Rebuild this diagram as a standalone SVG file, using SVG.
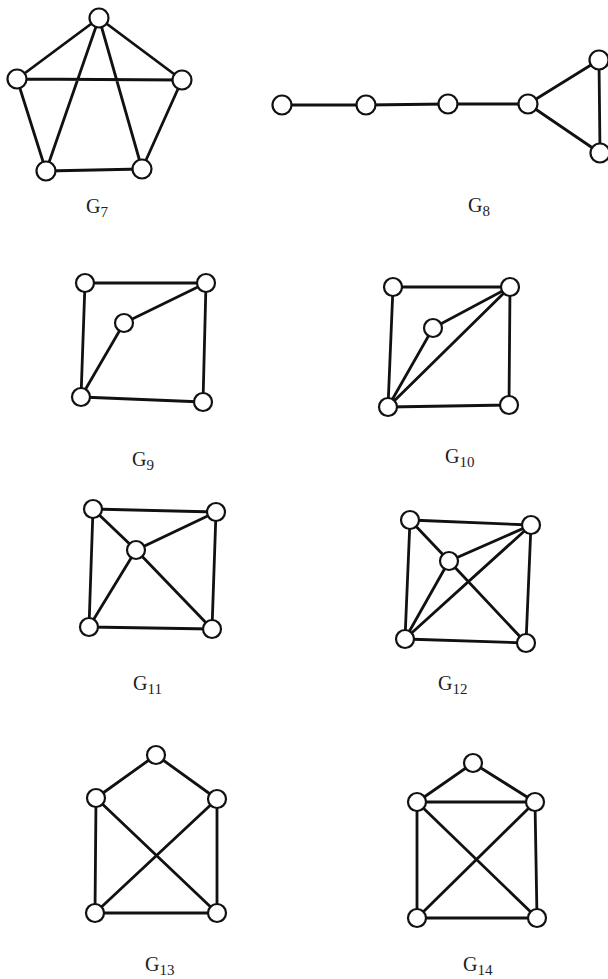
<svg xmlns="http://www.w3.org/2000/svg" width="608" height="979" viewBox="0 0 608 979">
<style>
.e{stroke:#111;stroke-width:2.8;stroke-linecap:round;fill:none}
.n circle{fill:#fff;stroke:#111;stroke-width:2.2}
.lbl{font-family:"Liberation Serif","DejaVu Serif",serif;font-size:20px;fill:#222}
.sub{font-size:15px}
</style>
<rect width="608" height="979" fill="#fff"/>
<g id="connectors" class="e">
<!-- G7 -->
<path d="M99 18L17 79M99 18L182 80M17 79L182 80M99 18L46 171M99 18L142 169M17 79L46 171M182 80L142 169M46 171L142 169"/>
<!-- G8 -->
<path d="M282 105L366 105L448 104L528 104M528 104L599 60M528 104L600 153M599 60L600 153"/>
<!-- G9 -->
<path d="M85 283L206 283M85 283L81 397M206 283L203 402M81 397L203 402M81 397L124 323L206 283"/>
<!-- G10 -->
<path d="M393 287L510 287M393 287L388 407M510 287L509 405M388 407L509 405M388 407L433 328L510 287M388 407L510 287"/>
<!-- G11 -->
<path d="M93 509L216 512M93 509L89 627M216 512L212 629M89 627L212 629M93 509L136 550L216 512M136 550L89 627M136 550L212 629"/>
<!-- G12 -->
<path d="M410 520L531 525M410 520L405 639M531 525L526 643M405 639L526 643M410 520L449 561L531 525M449 561L405 639M449 561L526 643M405 639L531 525"/>
<!-- G13 -->
<path d="M156 755L96 798M156 755L217 799M96 798L95 913M217 799L217 913M95 913L217 913M96 798L217 913M217 799L95 913"/>
<!-- G14 -->
<path d="M473 763L417 802M473 763L535 802M417 802L535 802M417 802L417 918M535 802L537 918M417 918L537 918M417 802L537 918M535 802L417 918"/>
</g>
<g id="G7" class="n">
<circle cx="99" cy="18" r="9.5"/><circle cx="17" cy="79" r="9.5"/><circle cx="182" cy="80" r="9.5"/><circle cx="46" cy="171" r="9.5"/><circle cx="142" cy="169" r="9.5"/>
<text class="lbl" x="86" y="213">G<tspan class="sub" dy="4">7</tspan></text>
</g>
<g id="G8" class="n">
<circle cx="282" cy="105" r="9.5"/><circle cx="366" cy="105" r="9.5"/><circle cx="448" cy="104" r="9.5"/><circle cx="528" cy="104" r="9.5"/><circle cx="599" cy="60" r="9.5"/><circle cx="600" cy="153" r="9.5"/>
<text class="lbl" x="468" y="212">G<tspan class="sub" dy="4">8</tspan></text>
</g>
<g id="G9" class="n">
<circle cx="85" cy="283" r="9"/><circle cx="206" cy="283" r="9"/><circle cx="124" cy="323" r="9"/><circle cx="81" cy="397" r="9"/><circle cx="203" cy="402" r="9"/>
<text class="lbl" x="132" y="466">G<tspan class="sub" dy="4">9</tspan></text>
</g>
<g id="G10" class="n">
<circle cx="393" cy="287" r="9"/><circle cx="510" cy="287" r="9"/><circle cx="433" cy="328" r="9"/><circle cx="388" cy="407" r="9"/><circle cx="509" cy="405" r="9"/>
<text class="lbl" x="445" y="463">G<tspan class="sub" dy="4">10</tspan></text>
</g>
<g id="G11" class="n">
<circle cx="93" cy="509" r="9"/><circle cx="216" cy="512" r="9"/><circle cx="136" cy="550" r="9"/><circle cx="89" cy="627" r="9"/><circle cx="212" cy="629" r="9"/>
<text class="lbl" x="133" y="690">G<tspan class="sub" dy="4">11</tspan></text>
</g>
<g id="G12" class="n">
<circle cx="410" cy="520" r="9"/><circle cx="531" cy="525" r="9"/><circle cx="449" cy="561" r="9"/><circle cx="405" cy="639" r="9"/><circle cx="526" cy="643" r="9"/>
<text class="lbl" x="438" y="690">G<tspan class="sub" dy="4">12</tspan></text>
</g>
<g id="G13" class="n">
<circle cx="156" cy="755" r="9"/><circle cx="96" cy="798" r="9"/><circle cx="217" cy="799" r="9"/><circle cx="95" cy="913" r="9"/><circle cx="217" cy="913" r="9"/>
<text class="lbl" x="145" y="971">G<tspan class="sub" dy="4">13</tspan></text>
</g>
<g id="G14" class="n">
<circle cx="473" cy="763" r="9"/><circle cx="417" cy="802" r="9"/><circle cx="535" cy="802" r="9"/><circle cx="417" cy="918" r="9"/><circle cx="537" cy="918" r="9"/>
<text class="lbl" x="463" y="971">G<tspan class="sub" dy="4">14</tspan></text>
</g>
</svg>
